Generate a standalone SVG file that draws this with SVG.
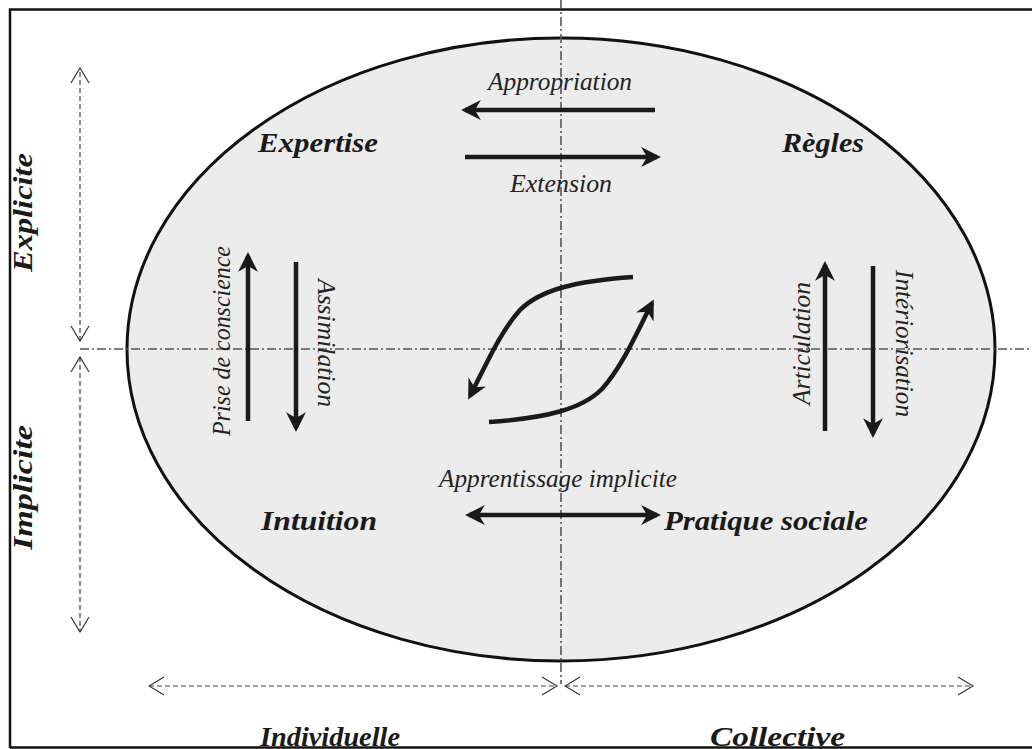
<svg xmlns="http://www.w3.org/2000/svg" width="1032" height="749" viewBox="0 0 1032 749">
  <defs>
    <marker id="head" viewBox="0 0 10 10" refX="8" refY="5" markerWidth="4.4" markerHeight="4.4" orient="auto-start-reverse" markerUnits="strokeWidth">
      <path d="M0,0 L10,5 L0,10 L3,5 Z" fill="#1a1a1a"/>
    </marker>
    <marker id="chev" viewBox="0 0 20 20" refX="19" refY="10" markerWidth="20" markerHeight="20" orient="auto-start-reverse" markerUnits="userSpaceOnUse">
      <path d="M4,1 L19,10 L4,19" fill="none" stroke="#333" stroke-width="1.2"/>
    </marker>
  </defs>
  <style>
    .frame { fill: none; stroke: #111; stroke-width: 2.5; }
    .axis { fill: none; stroke: #555; stroke-width: 1.6; stroke-dasharray: 9 3 2 3; }
    .range { fill: none; stroke: #444; stroke-width: 1.2; stroke-dasharray: 5 3; }
    .flow { fill: none; stroke: #1a1a1a; stroke-width: 4.5; }
    .title { font-family: "Liberation Serif", "DejaVu Serif", serif; font-weight: bold; font-style: italic; font-size: 28px; fill: #1a1a1a; }
    .label { font-family: "Liberation Serif", "DejaVu Serif", serif; font-style: italic; font-size: 25px; fill: #222; }
  </style>

  <rect width="1032" height="749" fill="#fff"/>
  <!-- outer frame -->
  <path class="frame" d="M10,748 L10,9.5 L1032,9.5"/>

  <!-- knowledge space -->
  <g id="space">
    <ellipse cx="561" cy="349.5" rx="434" ry="311.5" fill="#ececec" stroke="#111" stroke-width="3"/>
  </g>

  <!-- axes -->
  <g id="axes">
    <line class="axis" x1="561" y1="0" x2="561" y2="684"/>
    <line class="axis" x1="80" y1="349" x2="1032" y2="349"/>
  </g>

  <!-- dimension ranges -->
  <g id="ranges">
    <line class="range" x1="80" y1="341" x2="80" y2="68" marker-start="url(#chev)" marker-end="url(#chev)"/>
    <line class="range" x1="80" y1="357" x2="80" y2="632" marker-start="url(#chev)" marker-end="url(#chev)"/>
    <line class="range" x1="149" y1="686" x2="557" y2="686" marker-start="url(#chev)" marker-end="url(#chev)"/>
    <line class="range" x1="565" y1="686" x2="973" y2="686" marker-start="url(#chev)" marker-end="url(#chev)"/>
  </g>

  <!-- conversion flows -->
  <g id="connectors">
    <line class="flow" x1="655" y1="110" x2="465" y2="110" marker-end="url(#head)"/>
    <line class="flow" x1="465" y1="157" x2="657" y2="157" marker-end="url(#head)"/>
    <line class="flow" x1="248" y1="421" x2="248" y2="256" marker-end="url(#head)"/>
    <line class="flow" x1="296" y1="262" x2="296" y2="428" marker-end="url(#head)"/>
    <line class="flow" x1="825" y1="431" x2="825" y2="265" marker-end="url(#head)"/>
    <line class="flow" x1="873" y1="266" x2="873" y2="434" marker-end="url(#head)"/>
    <line class="flow" x1="469" y1="515" x2="657" y2="515" marker-start="url(#head)" marker-end="url(#head)"/>
    <path class="flow" d="M633,277 C575,281 540,290 520,310 C500,332 486,365 470,396" marker-end="url(#head)"/>
    <path class="flow" d="M489,422 C547,418 582,409 602,389 C622,367 636,334 652,303" marker-end="url(#head)"/>
  </g>

  <!-- knowledge types -->
  <g id="expertise"><text class="title" x="258" y="152" textLength="120" lengthAdjust="spacingAndGlyphs">Expertise</text></g>
  <g id="regles"><text class="title" x="782" y="152" textLength="82" lengthAdjust="spacingAndGlyphs">Règles</text></g>
  <g id="intuition"><text class="title" x="261" y="530" textLength="116" lengthAdjust="spacingAndGlyphs">Intuition</text></g>
  <g id="pratique-sociale"><text class="title" x="664" y="530" textLength="204" lengthAdjust="spacingAndGlyphs">Pratique sociale</text></g>

  <!-- axis names -->
  <g id="axis-names">
    <text class="title" transform="translate(32,272) rotate(-90)" textLength="119" lengthAdjust="spacingAndGlyphs">Explicite</text>
    <text class="title" transform="translate(32,550) rotate(-90)" textLength="125" lengthAdjust="spacingAndGlyphs">Implicite</text>
    <text class="title" x="260" y="746" textLength="140" lengthAdjust="spacingAndGlyphs">Individuelle</text>
    <text class="title" x="710" y="746" textLength="135" lengthAdjust="spacingAndGlyphs">Collective</text>
  </g>
  <path class="frame" d="M10,747.5 L1032,747.5"/>

  <!-- flow labels -->
  <g id="flow-labels">
    <text class="label" x="488" y="90" textLength="144" lengthAdjust="spacingAndGlyphs">Appropriation</text>
    <text class="label" x="510" y="192" textLength="102" lengthAdjust="spacingAndGlyphs">Extension</text>
    <text class="label" x="439" y="487" textLength="238" lengthAdjust="spacingAndGlyphs">Apprentissage implicite</text>
    <text class="label" transform="translate(230,436) rotate(-90)" textLength="190" lengthAdjust="spacingAndGlyphs">Prise de conscience</text>
    <text class="label" transform="translate(318,279) rotate(90)" textLength="128" lengthAdjust="spacingAndGlyphs">Assimilation</text>
    <text class="label" transform="translate(810,405) rotate(-90)" textLength="123" lengthAdjust="spacingAndGlyphs">Articulation</text>
    <text class="label" transform="translate(896,270) rotate(90)" textLength="147" lengthAdjust="spacingAndGlyphs">Intériorisation</text>
  </g>
</svg>
